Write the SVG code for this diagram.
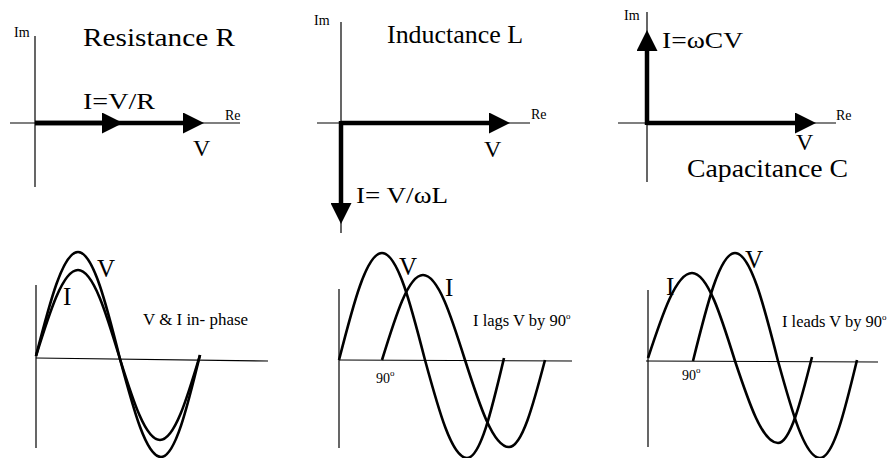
<svg xmlns="http://www.w3.org/2000/svg" width="896" height="458" viewBox="0 0 896 458">
<style>
text{font-family:"Liberation Serif","DejaVu Serif",serif;fill:#000}
.axis{stroke:#000;stroke-width:1.2;fill:none}
.ph{stroke:#000;stroke-width:4.5;fill:none}
.wave{stroke:#000;stroke-width:2.6;fill:none;stroke-linejoin:round}
.big{font-size:25px}
.lbl{font-size:24px}
.small{font-size:14px}
.mid{font-size:16px}
.sup{font-size:9px}
</style>
<defs>
<marker id="ah" markerUnits="userSpaceOnUse" markerWidth="21" markerHeight="21" refX="0" refY="10.5" orient="auto">
<path d="M0,0 L21,10.5 L0,21 z" fill="#000"/>
</marker>
</defs>

<g id="phasor-R">
<line class="axis" x1="35" y1="36" x2="35" y2="187"/>
<line class="axis" x1="10" y1="123" x2="240" y2="123"/>
<text class="small" x="14" y="37">Im</text>
<text class="small" x="225" y="120">Re</text>
<text class="big" x="83" y="46" font-family="Liberation Serif, serif" textLength="152" lengthAdjust="spacingAndGlyphs">Resistance  R</text>
<text class="lbl" x="83" y="109" font-family="Liberation Serif, serif" textLength="72" lengthAdjust="spacingAndGlyphs">I=V/R</text>
<text class="lbl" x="193" y="156" font-family="Liberation Serif, serif">V</text>
</g>

<g id="phasor-L">
<line class="axis" x1="341" y1="22" x2="341" y2="233"/>
<line class="axis" x1="317" y1="123" x2="530" y2="123"/>
<text class="small" x="314" y="25">Im</text>
<text class="small" x="531" y="119">Re</text>
<text class="big" x="387" y="43" font-family="Liberation Serif, serif" textLength="136" lengthAdjust="spacingAndGlyphs">Inductance L</text>
<text class="lbl" x="484" y="157" font-family="Liberation Serif, serif">V</text>
<text class="lbl" x="356" y="203" font-family="Liberation Serif, serif" textLength="92" lengthAdjust="spacingAndGlyphs">I= V/ωL</text>
</g>

<g id="phasor-C">
<line class="axis" x1="647" y1="12" x2="647" y2="182"/>
<line class="axis" x1="618" y1="123" x2="836" y2="123"/>
<text class="small" x="624" y="20">Im</text>
<text class="small" x="836" y="120">Re</text>
<text class="lbl" x="662" y="48" font-family="Liberation Serif, serif" textLength="81" lengthAdjust="spacingAndGlyphs">I=ωCV</text>
<text class="lbl" x="796" y="150" font-family="Liberation Serif, serif">V</text>
<text class="big" x="687" y="177" font-family="Liberation Serif, serif" textLength="161" lengthAdjust="spacingAndGlyphs">Capacitance C</text>
</g>

<g id="connectors">
<line class="ph" x1="35" y1="123" x2="102" y2="123" marker-end="url(#ah)"/>
<line class="ph" x1="35" y1="123" x2="183" y2="123" marker-end="url(#ah)"/>
<line class="ph" x1="341" y1="123" x2="489" y2="123" marker-end="url(#ah)"/>
<line class="ph" x1="341" y1="121" x2="341" y2="203" marker-end="url(#ah)"/>
<line class="ph" x1="647" y1="123" x2="795" y2="123" marker-end="url(#ah)"/>
<line class="ph" x1="647" y1="125" x2="647" y2="51" marker-end="url(#ah)"/>
</g>

<g id="wave-R">
<line class="axis" x1="36" y1="285" x2="36" y2="448"/>
<line class="axis" x1="36" y1="358" x2="268" y2="361"/>
<path class="wave" d="M36,356 C49.7,302.8 62.8,252 78,252 C93.2,252 106.3,304.2 120,359 C133.4,409.2 146.2,457 161,457 C175.1,457 187.3,407.2 200,355"/>
<path class="wave" d="M36,356 C49.7,312 62.8,270 78,270 C93.2,270 106.3,313.4 120,359 C133,400.5 145.5,440 160,440 C174.5,440 187,398.5 200,355"/>
<text class="big" x="97" y="277" font-family="Liberation Serif, serif">V</text>
<text class="big" x="63" y="305" font-family="Liberation Serif, serif">I</text>
<text class="mid" x="143" y="325" textLength="105" lengthAdjust="spacingAndGlyphs">V &amp; I in- phase</text>
</g>

<g id="wave-L">
<line class="axis" x1="339" y1="289" x2="339" y2="448"/>
<line class="axis" x1="339" y1="360" x2="572" y2="361"/>
<path class="wave" d="M339,360 C353,305.2 366.4,253 382,253 C397.6,253 411,305.2 425,360 C438.7,410.2 451.8,458 467,458 C480.4,458 491.9,409.2 504,358"/>
<path class="wave" d="M382,360 C395.4,316.5 408.2,275 423,275 C438.2,275 451.3,316.5 465,360 C479.3,404.5 493.1,447 509,447 C522,447 533.3,404.5 545,360"/>
<text class="big" x="399" y="275" font-family="Liberation Serif, serif">V</text>
<text class="big" x="445" y="296" font-family="Liberation Serif, serif">I</text>
<text class="mid" x="473" y="326" textLength="93" lengthAdjust="spacingAndGlyphs">I lags V by 90</text>
<text class="sup" x="566" y="319">o</text>
<text class="small" x="376" y="383">90</text>
<text class="sup" x="390" y="376">o</text>
</g>

<g id="wave-C">
<line class="axis" x1="648" y1="290" x2="648" y2="447"/>
<line class="axis" x1="646" y1="361" x2="878" y2="362"/>
<path class="wave" d="M648,358 C662.3,314.5 676.1,273 692,273 C707.6,273 721,316 735,361 C749,403 762.4,443 778,443 C790.3,443 800.9,401 812,357"/>
<path class="wave" d="M693,361 C706.7,305.7 719.8,253 735,253 C750.6,253 764,305.7 778,361 C791.7,410.7 804.8,458 820,458 C833.4,458 844.9,410.2 857,360"/>
<text class="big" x="666" y="295" font-family="Liberation Serif, serif">I</text>
<text class="big" x="745" y="268" font-family="Liberation Serif, serif">V</text>
<text class="mid" x="782" y="327" textLength="100" lengthAdjust="spacingAndGlyphs">I leads V by 90</text>
<text class="sup" x="882" y="320">o</text>
<text class="small" x="682" y="380">90</text>
<text class="sup" x="696" y="373">o</text>
</g>
</svg>
